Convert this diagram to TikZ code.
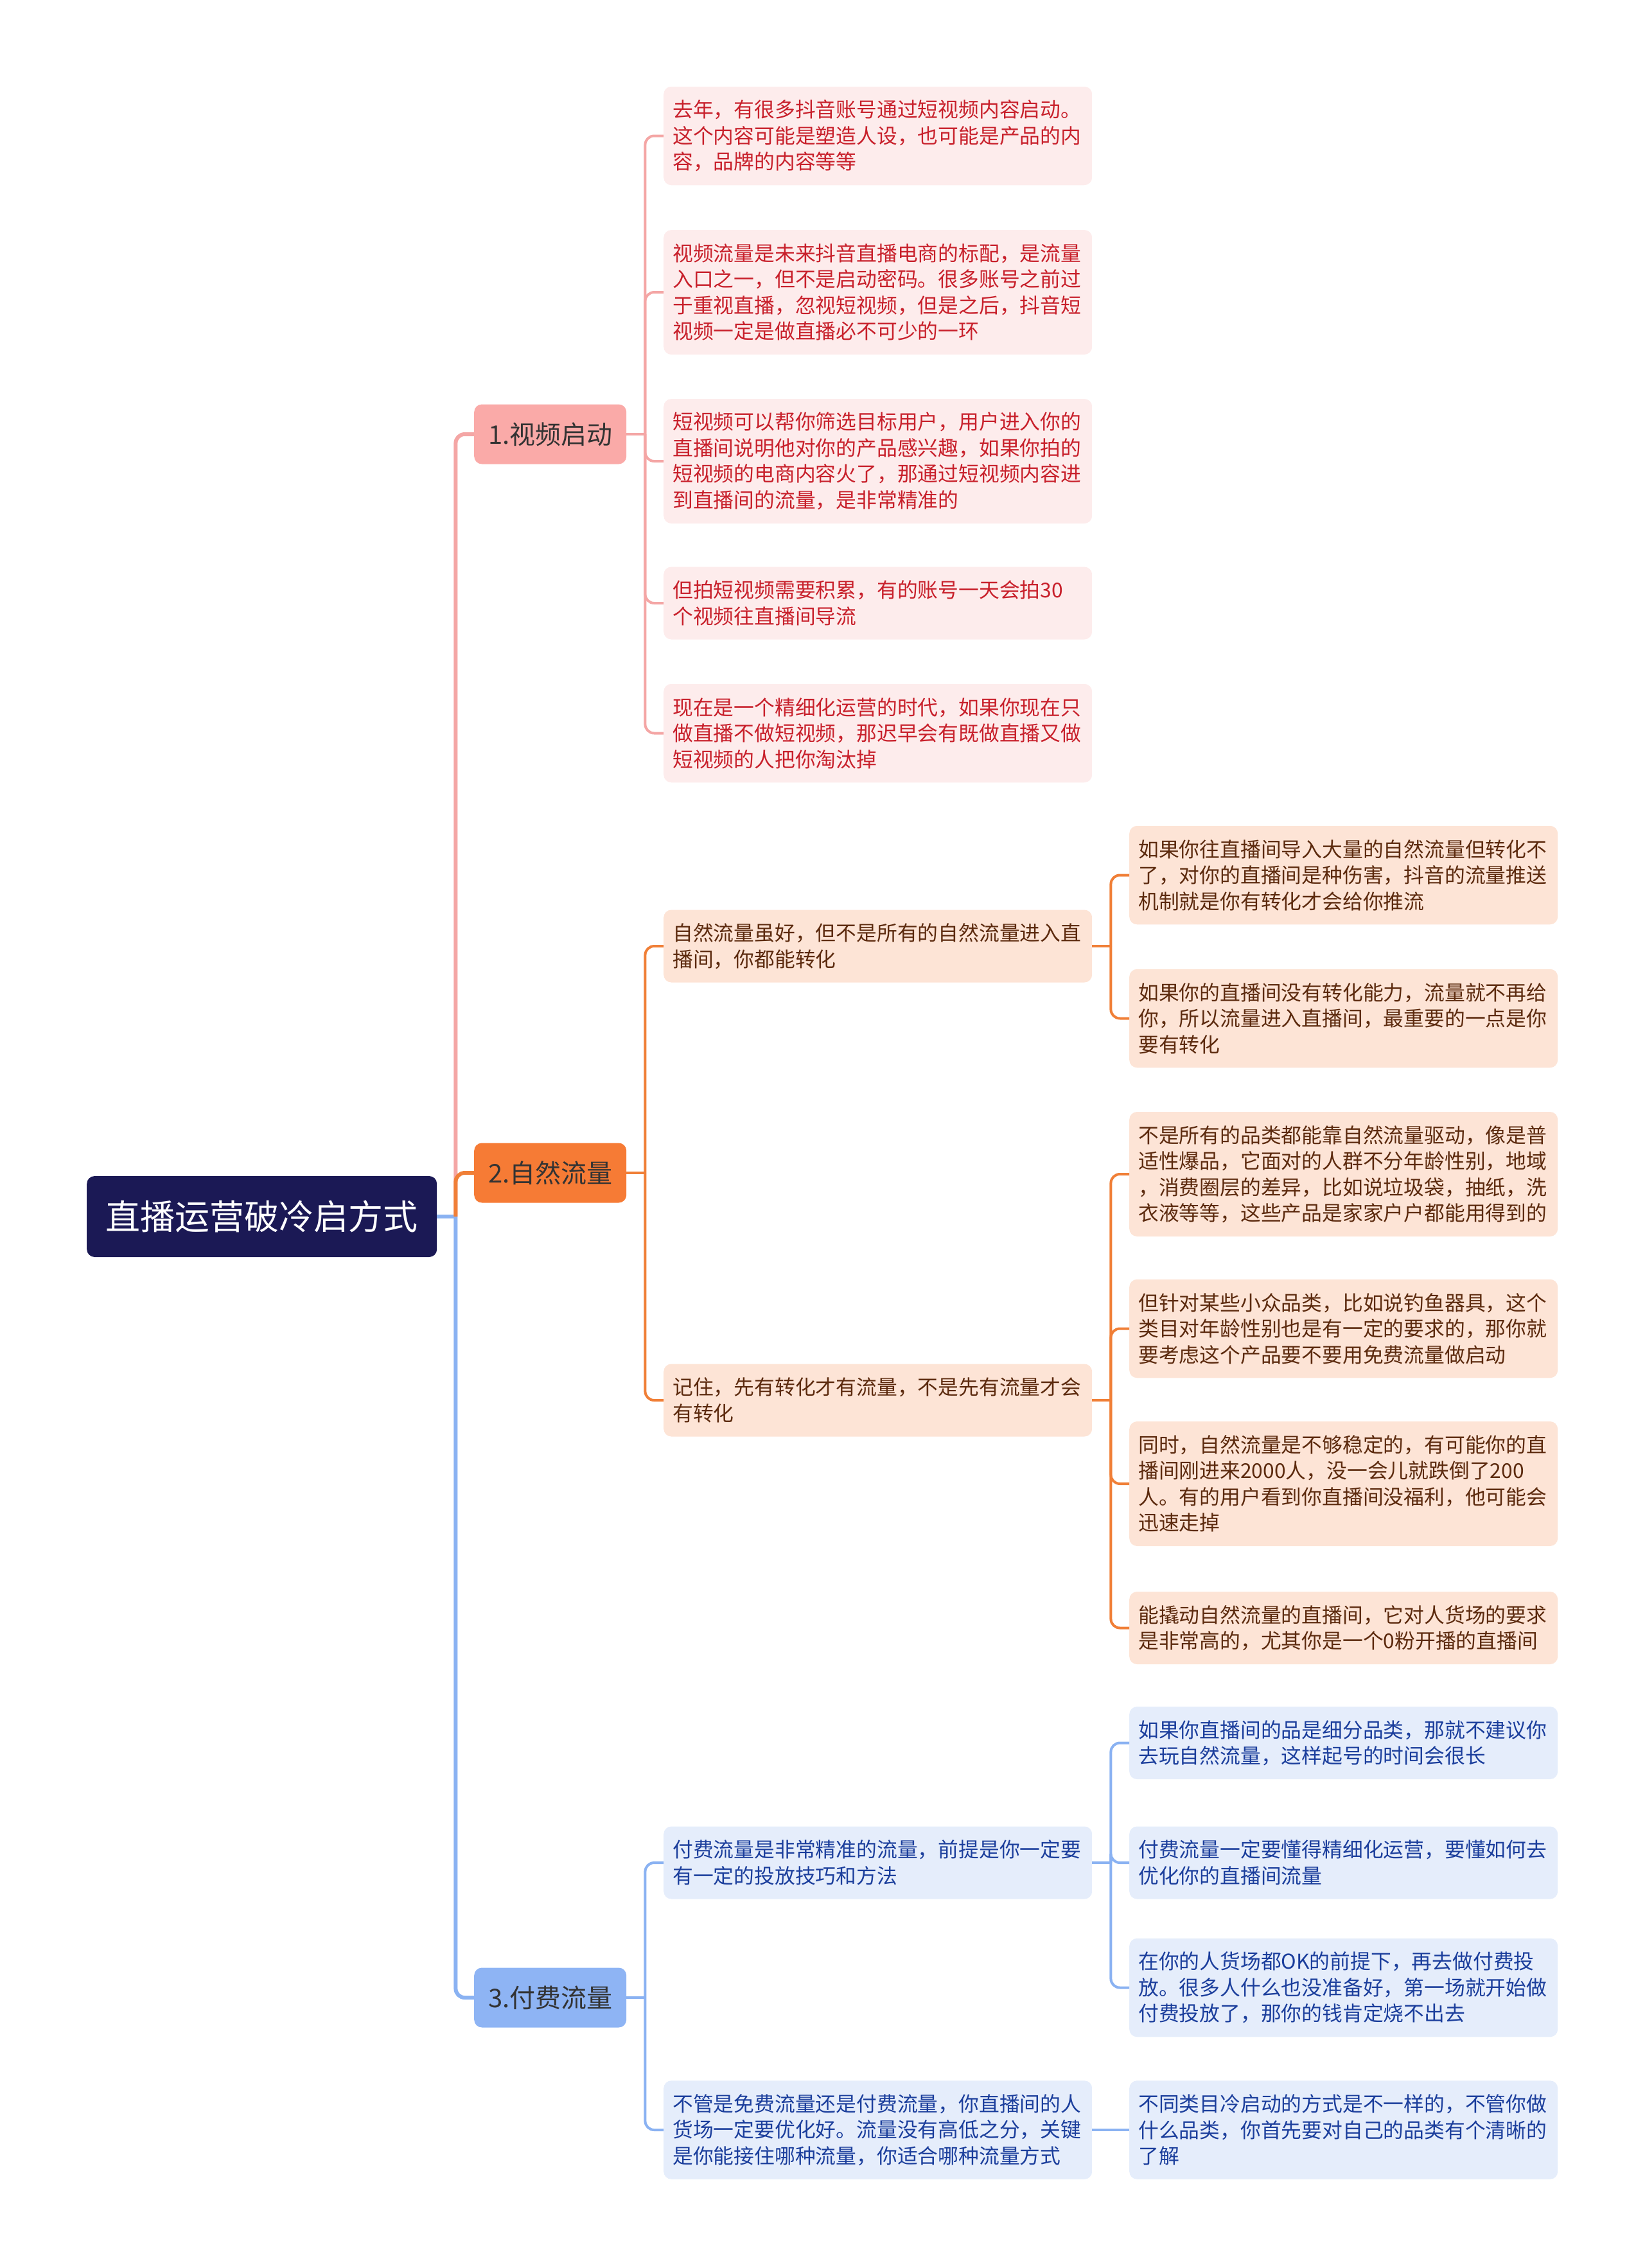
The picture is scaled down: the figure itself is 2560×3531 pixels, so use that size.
\documentclass[tikz,border=0pt]{standalone}
\usepackage{fontspec}
\setmainfont{Noto Sans CJK SC}
\usetikzlibrary{calc,positioning}
\definecolor{rootfill}{HTML}{1B1955}
\definecolor{pinktopic}{HTML}{FAAAA8}
\definecolor{pinkline}{HTML}{F4A6A5}
\definecolor{pinkleaf}{HTML}{FDECEC}
\definecolor{pinktext}{HTML}{C8202B}
\definecolor{orangetopic}{HTML}{F67B35}
\definecolor{orangeline}{HTML}{F07F37}
\definecolor{orangeleaf}{HTML}{FDE4D6}
\definecolor{orangetext}{HTML}{5C2A0E}
\definecolor{bluetopic}{HTML}{8EB4F4}
\definecolor{blueline}{HTML}{8AB2F2}
\definecolor{blueleaf}{HTML}{E5EDFB}
\definecolor{bluetext}{HTML}{1B3E9C}

\begin{document}
\begin{tikzpicture}[
    x=1pt, y=-1pt,
    rootnode/.style={fill=rootfill, text=white, rounded corners=12pt, minimum width=545pt, minimum height=126pt, inner sep=0pt, anchor=west, font=\fontsize{54}{60}\selectfont},
    topic/.style={rounded corners=12pt, minimum width=237pt, minimum height=93pt, inner sep=0pt, anchor=west, font=\fontsize{40}{48}\selectfont},
    leaf/.style={rounded corners=12pt, anchor=west, text width=639pt, inner xsep=14pt, inner ysep=4pt, align=left, font=\fontsize{31.8}{40.5}\selectfont},
    nlines/.style={minimum height=#1*40.5pt+32pt},
    pinkleafbox/.style={leaf, fill=pinkleaf, text=pinktext},
    orangeleafbox/.style={leaf, fill=orangeleaf, text=orangetext},
    blueleafbox/.style={leaf, fill=blueleaf, text=bluetext},
    trunk/.style={line width=6pt},
    twig/.style={line width=4pt, rounded corners=14pt}
]

\useasboundingbox (0,0) rectangle (2560,3531);

% Root and main topics
\node[rootnode] (root) at (135,1894) {直播运营破冷启方式};
\node[topic, fill=pinktopic, text=black!80] (video) at (738,676) {1.视频启动};
\node[topic, fill=orangetopic, text=black!80] (natural) at (738,1826) {2.自然流量};
\node[topic, fill=bluetopic, text=black!80] (paid) at (738,3110) {3.付费流量};

% Video branch
\node[pinkleafbox, nlines=3] (p1) at (1033,211.5) {去年，有很多抖音账号通过短视频内容启动。\\这个内容可能是塑造人设，也可能是产品的内\\容，品牌的内容等等};
\node[pinkleafbox, nlines=4] (p2) at (1033,455) {视频流量是未来抖音直播电商的标配，是流量\\入口之一，但不是启动密码。很多账号之前过\\于重视直播，忽视短视频，但是之后，抖音短\\视频一定是做直播必不可少的一环};
\node[pinkleafbox, nlines=4] (p3) at (1033,718) {短视频可以帮你筛选目标用户，用户进入你的\\直播间说明他对你的产品感兴趣，如果你拍的\\短视频的电商内容火了，那通过短视频内容进\\到直播间的流量，是非常精准的};
\node[pinkleafbox, nlines=2] (p4) at (1033,939) {但拍短视频需要积累，有的账号一天会拍30\\个视频往直播间导流};
\node[pinkleafbox, nlines=3] (p5) at (1033,1141.5) {现在是一个精细化运营的时代，如果你现在只\\做直播不做短视频，那迟早会有既做直播又做\\短视频的人把你淘汰掉};

% Natural traffic branch
\node[orangeleafbox, nlines=2] (o1) at (1033,1473) {自然流量虽好，但不是所有的自然流量进入直\\播间，你都能转化};
\node[orangeleafbox, nlines=2] (o2) at (1033,2180) {记住，先有转化才有流量，不是先有流量才会\\有转化};
\node[orangeleafbox, nlines=3] (oa) at (1758,1362.5) {如果你往直播间导入大量的自然流量但转化不\\了，对你的直播间是种伤害，抖音的流量推送\\机制就是你有转化才会给你推流};
\node[orangeleafbox, nlines=3] (ob) at (1758,1585.5) {如果你的直播间没有转化能力，流量就不再给\\你，所以流量进入直播间，最重要的一点是你\\要有转化};
\node[orangeleafbox, nlines=4] (oc) at (1758,1828) {不是所有的品类都能靠自然流量驱动，像是普\\适性爆品，它面对的人群不分年龄性别，地域\\，消费圈层的差异，比如说垃圾袋，抽纸，洗\\衣液等等，这些产品是家家户户都能用得到的};
\node[orangeleafbox, nlines=3] (od) at (1758,2068.5) {但针对某些小众品类，比如说钓鱼器具，这个\\类目对年龄性别也是有一定的要求的，那你就\\要考虑这个产品要不要用免费流量做启动};
\node[orangeleafbox, nlines=4] (oe) at (1758,2310) {同时，自然流量是不够稳定的，有可能你的直\\播间刚进来2000人，没一会儿就跌倒了200\\人。有的用户看到你直播间没福利，他可能会\\迅速走掉};
\node[orangeleafbox, nlines=2] (of) at (1758,2534.5) {能撬动自然流量的直播间，它对人货场的要求\\是非常高的，尤其你是一个0粉开播的直播间};

% Paid traffic branch
\node[blueleafbox, nlines=2] (b1) at (1033,2900) {付费流量是非常精准的流量，前提是你一定要\\有一定的投放技巧和方法};
\node[blueleafbox, nlines=3] (b2) at (1033,3316) {不管是免费流量还是付费流量，你直播间的人\\货场一定要优化好。流量没有高低之分，关键\\是你能接住哪种流量，你适合哪种流量方式};
\node[blueleafbox, nlines=2] (ba) at (1758,2713.5) {如果你直播间的品是细分品类，那就不建议你\\去玩自然流量，这样起号的时间会很长};
\node[blueleafbox, nlines=2] (bb) at (1758,2900) {付费流量一定要懂得精细化运营，要懂如何去\\优化你的直播间流量};
\node[blueleafbox, nlines=3] (bc) at (1758,3094.5) {在你的人货场都OK的前提下，再去做付费投\\放。很多人什么也没准备好，第一场就开始做\\付费投放了，那你的钱肯定烧不出去};
\node[blueleafbox, nlines=3] (bd) at (1758,3316) {不同类目冷启动的方式是不一样的，不管你做\\什么品类，你首先要对自己的品类有个清晰的\\了解};

% Trunk connectors
\coordinate (rootjoin) at ([xshift=29pt]root.east);
\draw[trunk, blueline] (root.east) -- (rootjoin);
\draw[trunk, pinkline, rounded corners=14pt] (rootjoin) |- (video.west);
\draw[trunk, blueline, rounded corners=14pt] (rootjoin) |- (paid.west);
\draw[trunk, orangeline, rounded corners=14pt] (rootjoin) |- (natural.west);

% Branch connectors
\coordinate (videojoin) at ([xshift=29pt]video.east);
\draw[twig, pinkline] (video.east) -- (videojoin);
\foreach \c in {p1,p2,p3,p4,p5}
  \draw[twig, pinkline] (videojoin) |- (\c.west);

\coordinate (naturaljoin) at ([xshift=29pt]natural.east);
\draw[twig, orangeline] (natural.east) -- (naturaljoin);
\foreach \c in {o1,o2}
  \draw[twig, orangeline] (naturaljoin) |- (\c.west);

\coordinate (o1join) at ([xshift=29pt]o1.east);
\draw[twig, orangeline] (o1.east) -- (o1join);
\foreach \c in {oa,ob}
  \draw[twig, orangeline] (o1join) |- (\c.west);

\coordinate (o2join) at ([xshift=29pt]o2.east);
\draw[twig, orangeline] (o2.east) -- (o2join);
\foreach \c in {oc,od,oe,of}
  \draw[twig, orangeline] (o2join) |- (\c.west);

\coordinate (paidjoin) at ([xshift=29pt]paid.east);
\draw[twig, blueline] (paid.east) -- (paidjoin);
\foreach \c in {b1,b2}
  \draw[twig, blueline] (paidjoin) |- (\c.west);

\coordinate (b1join) at ([xshift=29pt]b1.east);
\draw[twig, blueline] (b1.east) -- (b1join);
\foreach \c in {ba,bb,bc}
  \draw[twig, blueline] (b1join) |- (\c.west);

\draw[twig, blueline] (b2.east) -- (bd.west);

\end{tikzpicture}
\end{document}
